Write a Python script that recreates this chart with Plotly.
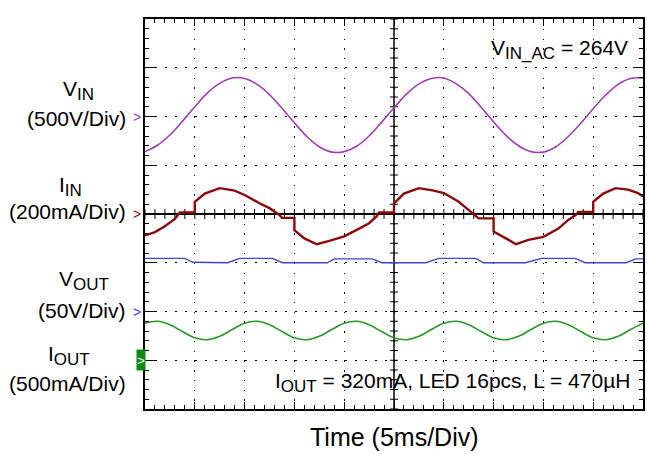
import plotly.graph_objects as go

FONT = "Arial, 'Liberation Sans', sans-serif"

# ---- channel settings (scale per division, ground-marker position in divisions)
VIN_SCALE, VIN_POS = 500.0, 2.0      # V/div
IIN_SCALE, IIN_POS = 200.0, 0.0      # mA/div
VOUT_SCALE, VOUT_POS = 50.0, -2.0    # V/div
IOUT_SCALE, IOUT_POS = 500.0, -3.0   # mA/div

# ---- waveforms (time in ms, 5 ms/div)
vin_t = [0, 1.25, 2.5, 3.75, 5, 6.25, 7.5, 8.75, 10, 11.25, 12.5, 13.75, 15, 16.25,
         17.5, 18.75, 20, 21.25, 22.5, 23.75, 25, 26.25, 27.5, 28.75, 30, 31.25,
         32.5, 33.75, 35, 36.25, 37.5, 38.75, 40, 41.25, 42.5, 43.75, 45, 46.25,
         47.5, 48.75, 50]
vin_v = [-360, -295, -190, -50, 100, 240, 340, 395, 390, 330, 225, 85, -65, -205,
         -310, -365, -360, -305, -200, -60, 90, 230, 335, 390, 395, 335, 235, 95,
         -55, -195, -300, -360, -365, -310, -205, -70, 80, 220, 330, 390, 395]

iin_t = [0, 1, 2, 3, 3.3, 3.5, 5, 5, 6, 7.5, 9, 10, 11.5, 12.5, 13.5, 13.75, 15, 15,
         16, 17.25, 18.5, 20, 21.5, 22.5, 23.25, 23.5, 25, 25, 26, 27.5, 29, 30, 31.5,
         32.5, 33.25, 33.5, 35, 35, 36.5, 37.25, 38.5, 40, 41.5, 42.5, 43.25, 43.5,
         45, 45, 46, 47.25, 48.5, 49.5, 50]
iin_ma = [-88, -74, -50, -20, -4, 6, 6, 50, 84, 106, 96, 78, 44, 24, -4, -16, -16, -66,
          -100, -124, -110, -92, -60, -38, -10, 6, 6, 44, 84, 106, 96, 86, 50,
          16, -12, -18, -18, -72, -106, -124, -106, -94, -60, -24, -4, 8,
          8, 50, 84, 106, 100, 86, 72]

vout_t = [0, 4, 4.8, 8.3, 9.5, 12.8, 13.8, 18.3, 19, 22.8, 23.8, 28.2, 29.5, 33.2,
          34, 38.2, 39.8, 43.2, 44.2, 48.3, 49.3, 50]
vout_v = [54.5, 54.5, 50.5, 50, 54.5, 54.5, 50, 50, 54, 54, 50, 50, 54.5, 54.5,
          50, 50, 54.5, 54.5, 50, 50, 54, 54]

iout_t = vin_t
iout_ma = [380, 400, 365, 295, 230, 210, 245, 315,
           380, 400, 365, 295, 230, 210, 245, 315,
           380, 400, 365, 295, 230, 210, 245, 315,
           380, 400, 365, 295, 230, 210, 245, 315,
           380, 400, 365, 295, 230, 210, 245, 315, 380]


def to_div(values, scale, pos):
    return [v / scale + pos for v in values]


fig = go.Figure()
fig.add_trace(go.Scatter(x=vin_t, y=to_div(vin_v, VIN_SCALE, VIN_POS), mode="lines",
                         line=dict(color="#A23CB6", width=1.6, shape="spline"),
                         showlegend=False, hoverinfo="skip"))
fig.add_trace(go.Scatter(x=iin_t, y=to_div(iin_ma, IIN_SCALE, IIN_POS), mode="lines",
                         line=dict(color="#8E0A0A", width=2.4),
                         showlegend=False, hoverinfo="skip"))
fig.add_trace(go.Scatter(x=vout_t, y=to_div(vout_v, VOUT_SCALE, VOUT_POS), mode="lines",
                         line=dict(color="#4046C4", width=1.4),
                         showlegend=False, hoverinfo="skip"))
fig.add_trace(go.Scatter(x=iout_t, y=to_div(iout_ma, IOUT_SCALE, IOUT_POS), mode="lines",
                         line=dict(color="#259A25", width=1.6, shape="spline"),
                         showlegend=False, hoverinfo="skip"))

# ---- crosshair (centre lines with small ticks)
shapes = [
    dict(type="line", xref="x", yref="paper", x0=25, x1=25, y0=0, y1=1,
         line=dict(color="black", width=1.5), layer="between"),
]
for i in range(51):
    shapes.append(dict(type="line", xref="x", yref="y", x0=i, x1=i,
                       ysizemode="pixel", yanchor=0, y0=-5, y1=5,
                       line=dict(color="black", width=1), layer="between"))
for j in range(41):
    yv = -4 + j * 0.2
    shapes.append(dict(type="line", xref="x", yref="y", y0=yv, y1=yv,
                       xsizemode="pixel", xanchor=25, x0=-4, x1=4,
                       line=dict(color="black", width=1), layer="between"))

SUB = "<span style='font-size:17px'>{}</span>"
annotations = []


def label(text, x, y, xanchor="center", size=21, yref="y", xref="paper", **kw):
    annotations.append(dict(text=text, x=x, y=y, xref=xref, yref=yref, xanchor=xanchor,
                            yanchor="middle", showarrow=False,
                            font=dict(family=FONT, size=size, color="black"), **kw))


label("V<sub>" + SUB.format("IN") + "</sub>", -0.134, 2.54)
label("(500V/Div)", -0.034, 1.95, xanchor="right")
label("I<sub>" + SUB.format("IN") + "</sub>", -0.150, 0.56)
label("(200mA/Div)", -0.034, 0.05, xanchor="right")
label("V<sub>" + SUB.format("OUT") + "</sub>", -0.122, -1.37)
label("(50V/Div)", -0.034, -1.97, xanchor="right")
label("I<sub>" + SUB.format("OUT") + "</sub>", -0.152, -2.91)
label("(500mA/Div)", -0.034, -3.47, xanchor="right")
label("V<sub>" + SUB.format("IN_AC") + "</sub> = 264V", 0.974, 3.38, xanchor="right")
label("I<sub>" + SUB.format("OUT") + "</sub> = 320mA, LED 16pcs, L = 470µH", 0.978, -3.45,
      xanchor="right")
label("Time (5ms/Div)", 0.502, -0.072, size=25, yref="paper")

# channel ground markers
for col, pos in [("#A23CB6", VIN_POS), ("#8E0A0A", IIN_POS), ("#3A3FC0", VOUT_POS)]:
    annotations.append(dict(text="&gt;", x=-0.004, y=pos, xref="paper", yref="y",
                            xanchor="right", yanchor="middle", showarrow=False,
                            font=dict(family=FONT, size=14, color=col)))
annotations.append(dict(text="&gt;", x=-0.009, y=IOUT_POS, xref="paper", yref="y",
                        xanchor="center", yanchor="middle", showarrow=False,
                        width=8, height=20, bgcolor="#128A12", borderpad=0,
                        font=dict(family=FONT, size=13, color="white")))

axis_common = dict(showgrid=True, gridcolor="black", gridwidth=1, showline=True,
                   linecolor="black", linewidth=1.5, mirror="allticks", ticks="inside",
                   tickcolor="black", tickwidth=1, showticklabels=False)

fig.update_layout(
    width=647, height=454,
    margin=dict(l=145, r=2, t=19, b=45),
    paper_bgcolor="white", plot_bgcolor="white",
    xaxis=dict(range=[0, 50], tick0=0, dtick=5, ticklen=7, griddash="1.5px,8.25px",
               zeroline=False,
               minor=dict(tick0=0, dtick=1, ticks="inside", ticklen=4, tickcolor="black",
                          showgrid=False),
               **axis_common),
    yaxis=dict(range=[-4, 4], tick0=0, dtick=1, ticklen=10, griddash="1.5px,8.5px",
               zeroline=True, zerolinecolor="black", zerolinewidth=1.5,
               minor=dict(tick0=0, dtick=0.2, ticks="inside", ticklen=4, tickcolor="black",
                          showgrid=False),
               **axis_common),
    shapes=shapes,
    annotations=annotations,
)

fig.write_html("out.html", config={"displayModeBar": False},
               post_script="document.body.style.margin='0';document.body.style.overflow='hidden';")
